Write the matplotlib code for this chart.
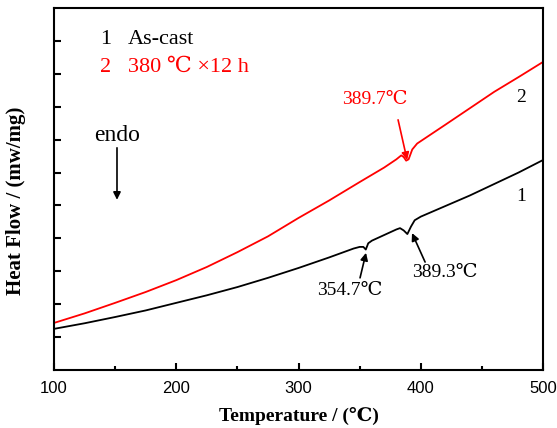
import matplotlib
matplotlib.use("Agg")
import matplotlib.pyplot as plt
from matplotlib.ticker import MultipleLocator

SERIF = ["Liberation Serif", "DejaVu Serif", "Noto Sans CJK SC"]
plt.rcParams["font.family"] = SERIF

# curve 1: as-cast
temp_cast = [100, 125, 150, 175, 200, 225, 250, 275, 300, 325, 345, 350, 353, 355,
             357, 360, 370, 380, 383, 386, 389, 392, 395, 400, 420, 440, 460, 480, 500]
flow_cast = [1.25, 1.42, 1.61, 1.81, 2.04, 2.27, 2.52, 2.80, 3.10, 3.42, 3.69, 3.74, 3.74, 3.66,
             3.85, 3.93, 4.10, 4.27, 4.31, 4.24, 4.13, 4.36, 4.55, 4.66, 4.98, 5.30, 5.65, 6.00, 6.38]

# curve 2: 380 C x 12 h
temp_aged = [100, 125, 150, 175, 200, 225, 250, 275, 300, 325, 350, 370, 380, 384,
             386, 388, 390, 393, 397, 420, 440, 460, 480, 500]
flow_aged = [1.43, 1.72, 2.04, 2.37, 2.73, 3.13, 3.58, 4.06, 4.62, 5.15, 5.71, 6.15, 6.40, 6.52,
             6.47, 6.36, 6.40, 6.70, 6.88, 7.45, 7.95, 8.45, 8.90, 9.36]

fig = plt.figure(figsize=(5.57, 4.28), dpi=100)
ax = fig.add_axes([0.097, 0.1355, 0.878, 0.846])

ax.plot(temp_cast, flow_cast, color="black", lw=1.3)
ax.plot(temp_aged, flow_aged, color="red", lw=1.3)

ax.set_xlim(100, 500)
ax.set_ylim(0, 11)
ax.xaxis.set_major_locator(MultipleLocator(100))
ax.xaxis.set_minor_locator(MultipleLocator(50))
ax.set_yticks(range(1, 11))
ax.set_yticklabels([])
ax.tick_params(which="both", direction="in", top=False, right=False, width=1.5)
ax.tick_params(which="major", length=5)
ax.tick_params(which="minor", length=3)
for lbl in ax.get_xticklabels():
    lbl.set_family(["Liberation Sans", "DejaVu Sans"])
    lbl.set_fontsize(12)
ax.tick_params(axis="x", pad=8)
for sp in ax.spines.values():
    sp.set_linewidth(1.5)

ax.set_xlabel("Temperature / (℃)", fontsize=14, fontweight="bold", labelpad=8)
ax.set_ylabel("Heat Flow / (mw/mg)", fontsize=15, fontweight="bold", labelpad=12)
ax.yaxis.set_label_coords(-0.058, 0.467)

# legend-like text
ax.text(137.6, 10.03, "1", fontsize=16, color="black", va="center")
ax.text(160.5, 10.03, "As-cast", fontsize=16, color="black", va="center")
ax.text(137.6, 9.18, "2", fontsize=16, color="red", va="center")
ax.text(160.5, 9.18, "380 ℃ ×12 h", fontsize=16, color="red", va="center")

ax.text(482, 8.27, "2", fontsize=14, ha="center", va="center")
ax.text(482, 5.26, "1", fontsize=14, ha="center", va="center")

arrow = dict(arrowstyle="-|>", lw=1.2, mutation_scale=11, shrinkA=0, shrinkB=0)
ax.annotate("", xy=(151.5, 5.17), xytext=(151.5, 6.75), arrowprops=dict(arrow, color="black"))
ax.text(151.5, 7.11, "endo", fontsize=17, ha="center", va="center")

ax.annotate("", xy=(388.8, 6.38), xytext=(381.4, 7.60), arrowprops=dict(arrow, color="red"))
ax.text(362.6, 8.21, "389.7℃", fontsize=14, color="red", ha="center", va="center")

ax.annotate("", xy=(355.2, 3.56), xytext=(350.3, 2.80), arrowprops=dict(arrow, color="black"))
ax.text(342.1, 2.43, "354.7℃", fontsize=14, ha="center", va="center")

ax.annotate("", xy=(392.8, 4.16), xytext=(403.5, 3.28), arrowprops=dict(arrow, color="black"))
ax.text(419.8, 2.95, "389.3℃", fontsize=14, ha="center", va="center")

fig.savefig("out.png", dpi=100)
